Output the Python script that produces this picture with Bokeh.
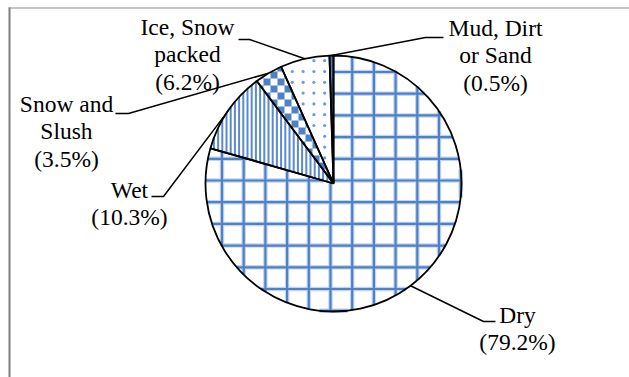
import math
import numpy as np
from bokeh.plotting import figure
from bokeh.models import ColumnDataSource, Range1d, Label
from bokeh.embed import file_html
from bokeh.resources import INLINE

# Road surface condition shares (%)
categories = ["Dry", "Wet", "Snow and Slush", "Ice, Snow packed", "Mud, Dirt or Sand"]
label_names = ["Dry", "Wet", "Snow and\nSlush", "Ice, Snow\npacked", "Mud, Dirt\nor Sand"]
shares = [79.2, 10.3, 3.5, 6.2, 0.5]

W, H = 629, 377
BLUE = "#4f81c7"
LIGHT = "#c2d4ef"
FONT = "Liberation Serif"

# pie geometry in pixel units (y measured upward)
CX, CY, R = 333, H - 183, 128

# label placement, in px from the top-left: centre x, centre y, elbow x, elbow y, line end x
label_layout = [
    (517, 328, 483, 321, 495),   # Dry
    (129, 203, 163, 196, 151),   # Wet
    (66, 131, 128, 113, 115),    # Snow and Slush
    (187, 54, 249, 39, 238),     # Ice, Snow packed
    (495, 55, 425, 37, 443),     # Mud, Dirt or Sand
]

fills = ["white", "white", "white", "white", BLUE]

total = sum(shares)
starts, ends, mids = [], [], []
cum = 0.0
for s in shares:
    a0 = math.pi / 2 - 2 * math.pi * cum / total
    cum += s
    a1 = math.pi / 2 - 2 * math.pi * cum / total
    starts.append(a0)
    ends.append(a1)
    mids.append((a0 + a1) / 2)

src = ColumnDataSource(dict(cat=categories, start=starts, end=ends, fill=fills))


def in_slice(px, py, a0, a1):
    dx = px - CX
    dy = py - CY
    th = np.arctan2(dy, dx)
    d = np.mod(a0 - th, 2 * np.pi)
    return (np.hypot(dx, dy) <= R) & (d <= (a0 - a1))


def clip_line(x0, y0, x1, y1, a0, a1, step=0.2):
    n = int(max(abs(x1 - x0), abs(y1 - y0)) / step) + 2
    t = np.linspace(0, 1, n)
    xs = x0 + (x1 - x0) * t
    ys = y0 + (y1 - y0) * t
    m = in_slice(xs, ys, a0, a1).astype(int)
    edges = np.flatnonzero(np.diff(np.concatenate([[0], m, [0]])))
    return [(xs[s], ys[s], xs[e - 1], ys[e - 1]) for s, e in zip(edges[::2], edges[1::2])]


def sector_polygon(a0, a1, n=48):
    angs = np.linspace(a1, a0, n)
    return [(CX, CY)] + [(CX + R * math.cos(a), CY + R * math.sin(a)) for a in angs]


def _intersect(P, Q, A, B):
    x1, y1 = P
    x2, y2 = Q
    x3, y3 = A
    x4, y4 = B
    den = (x1 - x2) * (y3 - y4) - (y1 - y2) * (x3 - x4)
    t = ((x1 - x3) * (y3 - y4) - (y1 - y3) * (x3 - x4)) / den
    return (x1 + t * (x2 - x1), y1 + t * (y2 - y1))


def clip_poly(subject, clip):
    out = subject
    for i in range(len(clip)):
        ax, ay = clip[i]
        bx, by = clip[(i + 1) % len(clip)]

        def inside(q):
            return (bx - ax) * (q[1] - ay) - (by - ay) * (q[0] - ax) >= 0

        inp, out = out, []
        if not inp:
            break
        for j in range(len(inp)):
            P, Q = inp[j - 1], inp[j]
            pin, qin = inside(P), inside(Q)
            if qin:
                if not pin:
                    out.append(_intersect(P, Q, (ax, ay), (bx, by)))
                out.append(Q)
            elif pin:
                out.append(_intersect(P, Q, (ax, ay), (bx, by)))
    return out


p = figure(width=W, height=H, x_range=Range1d(0, W), y_range=Range1d(0, H),
           output_backend="svg", toolbar_location=None,
           min_border=0, min_border_left=0, min_border_right=0,
           min_border_top=0, min_border_bottom=0)
p.axis.visible = False
p.grid.visible = False
p.outline_line_color = None
p.background_fill_color = "white"
p.border_fill_color = "white"

# chart-area frame (left and top edges)
p.segment(x0=[9], y0=[H - 7], x1=[9], y1=[0], line_color="#7f7f7f", line_width=2)
p.segment(x0=[8], y0=[H - 7.5], x1=[W], y1=[H - 7.5], line_color="#8c8c8c", line_width=1)

# slice backgrounds
p.wedge(x=CX, y=CY, radius=R, start_angle="start", end_angle="end", direction="clock",
        source=src, fill_color="fill", line_color=None)

# Dry: square grid
a0, a1 = starts[0], ends[0]
gstep = 21.7
grid = []
for k in range(-7, 8):
    x = CX - 3 + k * gstep
    if abs(x - CX) < R:
        grid += clip_line(x, CY - R, x, CY + R, a0, a1)
    y = CY + 3 + k * gstep
    if abs(y - CY) < R:
        grid += clip_line(CX - R, y, CX + R, y, a0, a1)
gx0, gy0, gx1, gy1 = (list(c) for c in zip(*grid))
p.segment(x0=gx0, y0=gy0, x1=gx1, y1=gy1, line_color=LIGHT, line_width=4.5)
p.segment(x0=gx0, y0=gy0, x1=gx1, y1=gy1, line_color=BLUE, line_width=2.2)

# Wet: narrow vertical stripes
a0, a1 = starts[1], ends[1]
stripes = []
x = CX - R
while x < CX:
    stripes += clip_line(x, CY - R, x, CY + R, a0, a1)
    x += 4.2
sx0, sy0, sx1, sy1 = (list(c) for c in zip(*stripes))
p.segment(x0=sx0, y0=sy0, x1=sx1, y1=sy1, line_color="#5a89cf", line_width=2)

# Snow and Slush: checkerboard
a0, a1 = starts[2], ends[2]
clipper = sector_polygon(a0, a1)
cs = 7.0
cxs, cys = [], []
for i in range(-20, 21):
    for j in range(-20, 21):
        if (i + j) % 2:
            continue
        x0, y0 = CX + i * cs, CY + j * cs
        sq = [(x0, y0), (x0 + cs, y0), (x0 + cs, y0 + cs), (x0, y0 + cs)]
        poly = clip_poly(sq, clipper)
        if len(poly) >= 3:
            cxs.append([q[0] for q in poly])
            cys.append([q[1] for q in poly])
p.patches(xs=cxs, ys=cys, fill_color=BLUE, line_color=None)

# Ice, Snow packed: dots
a0, a1 = starts[3], ends[3]
dx_, dy_ = [], []
ds = 10.8
for i in range(-15, 16):
    for j in range(-15, 16):
        x, y = CX + 2 + i * ds, CY + 4 + j * ds
        ok = all(in_slice(np.array([x + ox]), np.array([y + oy]), a0, a1)[0]
                 for ox, oy in ((2.5, 0), (-2.5, 0), (0, 2.5), (0, -2.5)))
        if ok:
            dx_.append(x)
            dy_.append(y)
p.scatter(x=dx_, y=dy_, size=3.2, marker="circle", fill_color="#6f9bd8", line_color=None)

# slice outlines
p.wedge(x=CX, y=CY, radius=R, start_angle="start", end_angle="end", direction="clock",
        source=src, fill_color=None, line_color="black", line_width=1.8)

# leader lines from slice edge midpoints to labels
xs, ys = [], []
for m, (lx, ly, ex, ey, endx) in zip(mids, label_layout):
    xs.append([CX + R * math.cos(m), ex, endx])
    ys.append([CY + R * math.sin(m), H - ey, H - ey])
p.multi_line(xs=xs, ys=ys, line_color="black", line_width=1.5)

for n, s, (lx, ly, ex, ey, endx) in zip(label_names, shares, label_layout):
    p.add_layout(Label(x=lx, y=H - ly, text=f"{n}\n({s:.1f}%)",
                       text_font=FONT, text_font_size="23.5px", text_color="black",
                       text_align="center", text_baseline="middle",
                       text_line_height=1.04))

open("out.html", "w").write(file_html(p, INLINE))
